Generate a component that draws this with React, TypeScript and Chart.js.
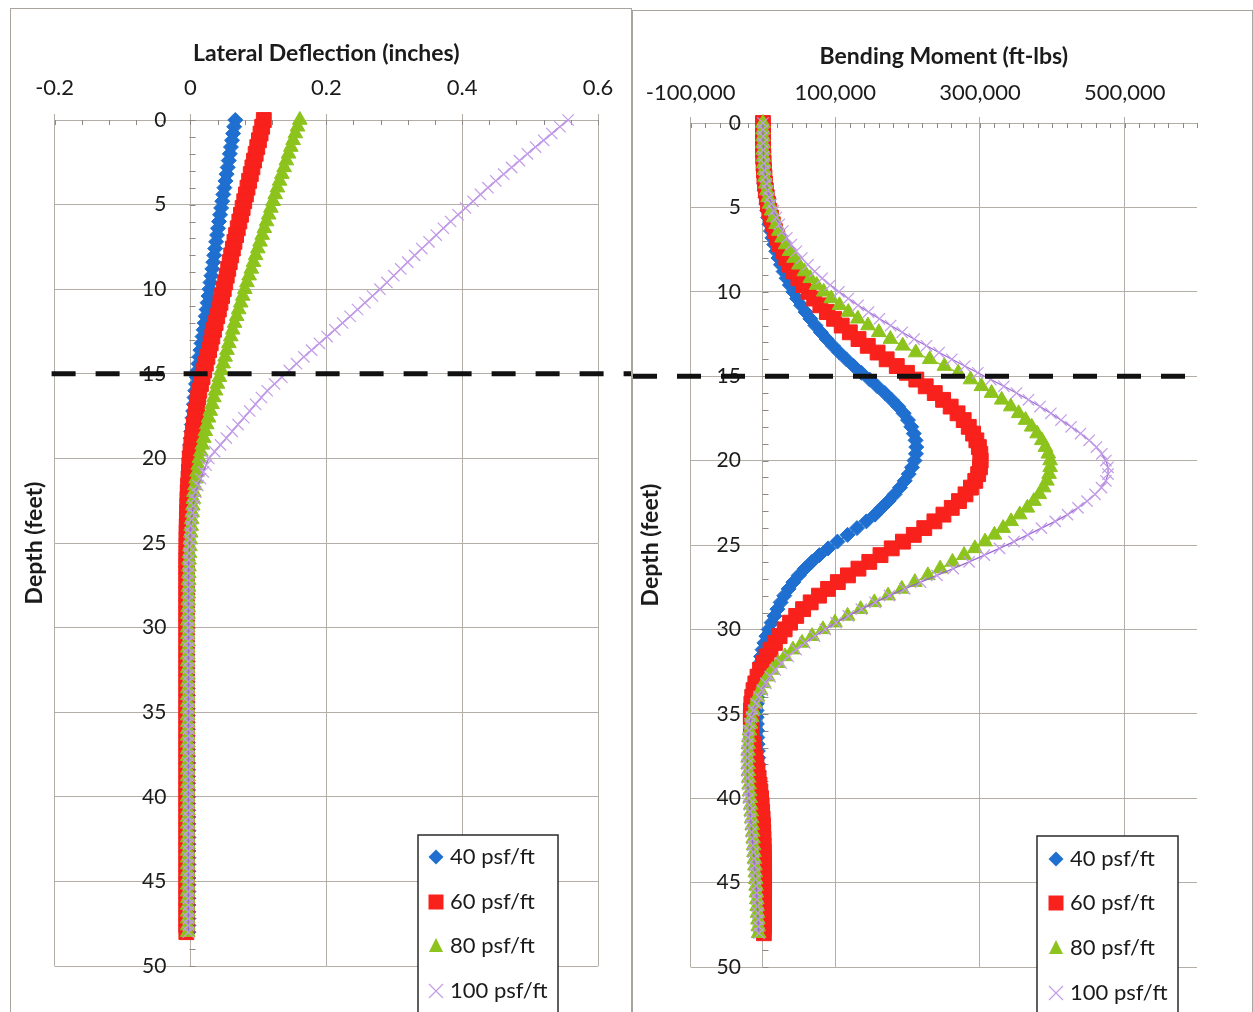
import React, { useEffect, useRef } from "react";
import { Chart, registerables } from "chart.js";

Chart.register(...registerables);

// ---------------- DATA ----------------
const DEPTH = [
  0, 0.4, 0.8, 1.2, 1.6, 2, 2.4, 2.8, 3.2, 3.6,
  4, 4.4, 4.8, 5.2, 5.6, 6, 6.4, 6.8, 7.2, 7.6,
  8, 8.4, 8.8, 9.2, 9.6, 10, 10.4, 10.8, 11.2, 11.6,
  12, 12.4, 12.8, 13.2, 13.6, 14, 14.4, 14.8, 15.2, 15.6,
  16, 16.4, 16.8, 17.2, 17.6, 18, 18.4, 18.8, 19.2, 19.6,
  20, 20.4, 20.8, 21.2, 21.6, 22, 22.4, 22.8, 23.2, 23.6,
  24, 24.4, 24.8, 25.2, 25.6, 26, 26.4, 26.8, 27.2, 27.6,
  28, 28.4, 28.8, 29.2, 29.6, 30, 30.4, 30.8, 31.2, 31.6,
  32, 32.4, 32.8, 33.2, 33.6, 34, 34.4, 34.8, 35.2, 35.6,
  36, 36.4, 36.8, 37.2, 37.6, 38, 38.4, 38.8, 39.2, 39.6,
  40, 40.4, 40.8, 41.2, 41.6, 42, 42.4, 42.8, 43.2, 43.6,
  44, 44.4, 44.8, 45.2, 45.6, 46, 46.4, 46.8, 47.2, 47.6,
  48,
];

// Lateral deflection (inches)
const DEFL_40 = [
  0.066, 0.0644, 0.0628, 0.0612, 0.0596, 0.058, 0.0564, 0.0548, 0.0532, 0.0516,
  0.05, 0.0484, 0.0468, 0.0452, 0.0436, 0.042, 0.0406, 0.0392, 0.0378, 0.0364,
  0.035, 0.0336, 0.0322, 0.0308, 0.0294, 0.028, 0.0266, 0.0252, 0.0238, 0.0224,
  0.021, 0.0194, 0.0178, 0.0162, 0.0146, 0.013, 0.0118, 0.0106, 0.0094, 0.0082,
  0.007, 0.006, 0.005, 0.004, 0.003, 0.002, 0.0012, 0.0004, -0.0004, -0.0012,
  -0.002, -0.0025, -0.0029, -0.0033, -0.0037, -0.004, -0.0042, -0.0044, -0.0046, -0.0048,
  -0.005, -0.005, -0.005, -0.005, -0.005, -0.005, -0.005, -0.005, -0.005, -0.005,
  -0.005, -0.005, -0.005, -0.005, -0.005, -0.005, -0.0049, -0.0048, -0.0047, -0.0046,
  -0.0045, -0.0044, -0.0043, -0.0042, -0.0041, -0.004, -0.004, -0.004, -0.004, -0.004,
  -0.004, -0.0039, -0.0038, -0.0037, -0.0036, -0.0035, -0.0035, -0.0035, -0.0035, -0.0035,
  -0.0035, -0.0034, -0.0033, -0.0032, -0.0031, -0.003, -0.003, -0.003, -0.003, -0.003,
  -0.003, -0.003, -0.003, -0.003, -0.003, -0.003, -0.003, -0.003, -0.003, -0.003,
  -0.003,
];
const DEFL_60 = [
  0.108, 0.1056, 0.1032, 0.1008, 0.0984, 0.096, 0.0936, 0.0912, 0.0888, 0.0864,
  0.084, 0.0816, 0.0792, 0.0768, 0.0744, 0.072, 0.0696, 0.0672, 0.0648, 0.0624,
  0.06, 0.0578, 0.0556, 0.0534, 0.0512, 0.049, 0.0466, 0.0442, 0.0418, 0.0394,
  0.037, 0.0346, 0.0322, 0.0298, 0.0274, 0.025, 0.0226, 0.0202, 0.0178, 0.0154,
  0.013, 0.0114, 0.0098, 0.0082, 0.0066, 0.005, 0.0038, 0.0026, 0.0014, 0.0002,
  -0.001, -0.0016, -0.0022, -0.0028, -0.0034, -0.004, -0.0043, -0.0046, -0.0049, -0.0052,
  -0.0055, -0.0056, -0.0057, -0.0058, -0.0059, -0.006, -0.006, -0.006, -0.006, -0.006,
  -0.006, -0.006, -0.006, -0.006, -0.006, -0.006, -0.006, -0.006, -0.006, -0.006,
  -0.006, -0.006, -0.006, -0.006, -0.006, -0.006, -0.006, -0.006, -0.006, -0.006,
  -0.006, -0.006, -0.006, -0.006, -0.006, -0.006, -0.006, -0.006, -0.006, -0.006,
  -0.006, -0.006, -0.006, -0.006, -0.006, -0.006, -0.006, -0.006, -0.006, -0.006,
  -0.006, -0.006, -0.006, -0.006, -0.006, -0.006, -0.006, -0.006, -0.006, -0.006,
  -0.006,
];
const DEFL_80 = [
  0.161, 0.1577, 0.1544, 0.1511, 0.1478, 0.1445, 0.1412, 0.1379, 0.1346, 0.1313,
  0.128, 0.1248, 0.1216, 0.1184, 0.1152, 0.112, 0.1088, 0.1056, 0.1024, 0.0992,
  0.096, 0.0928, 0.0896, 0.0864, 0.0832, 0.08, 0.077, 0.074, 0.071, 0.068,
  0.065, 0.0622, 0.0594, 0.0566, 0.0538, 0.051, 0.0482, 0.0454, 0.0426, 0.0398,
  0.037, 0.0344, 0.0318, 0.0292, 0.0266, 0.024, 0.0218, 0.0196, 0.0174, 0.0152,
  0.013, 0.0114, 0.0098, 0.0082, 0.0066, 0.005, 0.0042, 0.0034, 0.0026, 0.0018,
  0.001, 0.0004, -0.0002, -0.0008, -0.0014, -0.002, -0.0022, -0.0024, -0.0026, -0.0028,
  -0.003, -0.0032, -0.0034, -0.0036, -0.0038, -0.004, -0.004, -0.004, -0.004, -0.004,
  -0.004, -0.004, -0.004, -0.004, -0.004, -0.004, -0.004, -0.004, -0.004, -0.004,
  -0.004, -0.004, -0.004, -0.004, -0.004, -0.004, -0.004, -0.004, -0.004, -0.004,
  -0.004, -0.004, -0.004, -0.004, -0.004, -0.004, -0.004, -0.004, -0.004, -0.004,
  -0.004, -0.004, -0.004, -0.004, -0.004, -0.004, -0.004, -0.004, -0.004, -0.004,
  -0.004,
];
const DEFL_100 = [
  0.556, 0.544, 0.532, 0.52, 0.508, 0.496, 0.4844, 0.4728, 0.4612, 0.4496,
  0.438, 0.427, 0.416, 0.405, 0.394, 0.383, 0.3724, 0.3618, 0.3512, 0.3406,
  0.33, 0.3198, 0.3096, 0.2994, 0.2892, 0.279, 0.268, 0.257, 0.246, 0.235,
  0.224, 0.2126, 0.2012, 0.1898, 0.1784, 0.167, 0.1562, 0.1454, 0.1346, 0.1238,
  0.113, 0.1044, 0.0958, 0.0872, 0.0786, 0.07, 0.0614, 0.0528, 0.0442, 0.0356,
  0.027, 0.023, 0.019, 0.015, 0.011, 0.0075, 0.0056, 0.0041, 0.0028, 0.0016,
  0.0006, -0.0002, -0.0009, -0.0015, -0.002, -0.0024, -0.0027, -0.0029, -0.003, -0.003,
  -0.003, -0.003, -0.003, -0.003, -0.003, -0.003, -0.003, -0.003, -0.003, -0.003,
  -0.003, -0.003, -0.003, -0.003, -0.003, -0.003, -0.003, -0.003, -0.003, -0.003,
  -0.003, -0.003, -0.003, -0.003, -0.003, -0.003, -0.003, -0.003, -0.003, -0.003,
  -0.003, -0.003, -0.003, -0.003, -0.003, -0.003, -0.003, -0.003, -0.003, -0.003,
  -0.003, -0.003, -0.003, -0.003, -0.003, -0.003, -0.003, -0.003, -0.003, -0.003,
  -0.003,
];

// Bending moment (ft-lbs)
const MOM_40 = [
  0, 3, 22, 73, 172, 336, 581, 922, 1376, 1960,
  2688, 3578, 4645, 5906, 7376, 9072, 11010, 13206, 15676, 18437,
  21504, 24894, 28622, 32705, 37159, 42000, 47244, 52908, 59007, 65558,
  72576, 80078, 88080, 96599, 105649, 115248, 125411, 136155, 147496, 158000,
  168500, 178000, 187000, 194500, 200500, 205000, 208500, 211000, 212000, 211500,
  209500, 206000, 201500, 196000, 189500, 182000, 173500, 164000, 155000, 143000,
  130000, 117000, 103000, 90000, 78000, 67500, 58000, 49500, 42000, 35500,
  29500, 24500, 20000, 16000, 12000, 8000, 4800, 2000, -500, -2500,
  -4200, -5600, -6700, -7500, -8000, -8400, -8600, -8700, -8600, -8400,
  -8100, -7800, -7400, -7000, -6600, -6200, -5800, -5500, -5200, -4900,
  -4600, -4400, -4200, -4000, -3800, -3600, -3500, -3400, -3300, -3200,
  -3100, -3000, -3000, -3000, -3000, -3000, -3000, -3000, -3000, -3000,
  -3000,
];
const MOM_60 = [
  0, 4, 32, 109, 258, 504, 871, 1383, 2064, 2939,
  4032, 5367, 6967, 8858, 11064, 13608, 16515, 19809, 23515, 27656,
  32256, 37340, 42933, 49057, 55738, 63000, 70866, 79362, 88510, 98336,
  108864, 120117, 132121, 144898, 158474, 171000, 185000, 199000, 212000, 225000,
  237500, 249000, 259500, 269000, 277500, 284500, 290500, 295000, 298500, 300500,
  301000, 300000, 297500, 293500, 287500, 280000, 271000, 261000, 249500, 237000,
  223000, 208500, 193500, 178000, 162500, 147000, 132000, 117500, 103500, 90000,
  77500, 66000, 55500, 46000, 37500, 30000, 23000, 16500, 10500, 5000,
  0, -4000, -7500, -10500, -13000, -14800, -16000, -16600, -16800, -16600,
  -16000, -15000, -13600, -12000, -10500, -9000, -7500, -6000, -4800, -3600,
  -2600, -1800, -1100, -500, 0, 400, 700, 1000, 1200, 1400,
  1500, 1600, 1600, 1600, 1600, 1500, 1500, 1400, 1400, 1300,
  1300,
];
const MOM_80 = [
  0, 5, 43, 145, 344, 672, 1161, 1844, 2753, 3919,
  5376, 7155, 9290, 11811, 14752, 18144, 22020, 26412, 31353, 36874,
  43008, 49787, 57244, 65410, 74318, 84000, 94489, 105816, 118014, 131115,
  145152, 160156, 176161, 193197, 211298, 230496, 250823, 270000, 287000, 302000,
  316000, 330000, 342500, 353500, 363000, 371500, 379000, 385500, 390500, 394500,
  397000, 397000, 395500, 392500, 388000, 382000, 374500, 365500, 355000, 343000,
  332000, 320000, 307000, 293000, 278000, 262000, 245000, 228000, 210000, 192000,
  173000, 154000, 135000, 117000, 99500, 83000, 68000, 54000, 41500, 30500,
  21000, 13000, 6500, 1000, -3500, -7500, -10800, -13500, -15600, -17300,
  -18600, -19500, -20100, -20400, -20500, -20400, -20100, -19600, -19000, -18300,
  -17600, -16900, -16200, -15500, -14800, -14100, -13500, -12900, -12300, -11700,
  -11100, -10500, -10000, -9500, -9000, -8500, -8000, -7500, -7000, -6500,
  -6000,
];
const MOM_100 = [
  0, 7, 54, 181, 430, 840, 1452, 2305, 3441, 4899,
  6720, 8944, 11612, 14764, 18440, 22680, 27525, 33015, 39191, 46092,
  53760, 62234, 71555, 81762, 92897, 105000, 118000, 131500, 146000, 161000,
  176500, 192500, 209000, 226000, 243500, 261000, 279000, 297000, 315000, 333000,
  350500, 367000, 383000, 398000, 412000, 426000, 439000, 451000, 461000, 468500,
  474000, 477000, 477000, 474000, 468000, 459000, 448000, 435500, 421000, 404000,
  385000, 366000, 347000, 327000, 306000, 285000, 263000, 240500, 218000, 196000,
  175000, 155000, 136000, 118000, 101000, 86000, 71500, 58000, 46000, 35000,
  25500, 17000, 10000, 4000, -1000, -5500, -9500, -13000, -16000, -18000,
  -19500, -20500, -21200, -21600, -21800, -21800, -21600, -21200, -20700, -20100,
  -19400, -18700, -18000, -17200, -16400, -15600, -14800, -14000, -13200, -12400,
  -11600, -10900, -10200, -9500, -8900, -8300, -7700, -7100, -6600, -6100,
  -5600,
];

const SERIES_LABELS = ["40 psf/ft", "60 psf/ft", "80 psf/ft", "100 psf/ft"];

const DEPTH_TICKS = [0, 5, 10, 15, 20, 25, 30, 35, 40, 45, 50];
const DEFL_TICKS = [-0.2, 0, 0.2, 0.4, 0.6];
const DEFL_TICK_LABELS = ["-0.2", "0", "0.2", "0.4", "0.6"];
const MOM_TICKS = [-100000, 100000, 300000, 500000];
const MOM_TICK_LABELS = ["-100,000", "100,000", "300,000", "500,000"];
const EXCAVATION_DEPTH = 15;

// ---------------- STYLE ----------------
const FONT = 'Lato, "Open Sans", "DejaVu Sans", sans-serif';
const GRID = "#b3aea8";
const TICK_MARK = "#8d8883";
const TEXT = "#1b1b1b";

const SERIES_STYLE = [
  { shape: "rectRot", fill: "#1f6fd0", line: "#1f6fd0", radius: 7.5, lineWidth: 1.5 },
  { shape: "rect", fill: "#f8211c", line: "#f8211c", radius: 10.5, lineWidth: 1.5 },
  { shape: "triangle", fill: "#8cc31c", line: "#8cc31c", radius: 8.5, lineWidth: 1.5 },
  { shape: "crossRot", fill: "#c39ce8", line: "#9a68d2", radius: 8, lineWidth: 1.2 },
];

function drawLegendMarker(ctx: CanvasRenderingContext2D, i: number, x: number, y: number) {
  const s = SERIES_STYLE[i];
  ctx.save();
  ctx.fillStyle = s.fill;
  ctx.strokeStyle = s.fill;
  ctx.beginPath();
  if (s.shape === "rectRot") {
    const r = 7.5;
    ctx.moveTo(x, y - r);
    ctx.lineTo(x + r, y);
    ctx.lineTo(x, y + r);
    ctx.lineTo(x - r, y);
    ctx.closePath();
    ctx.fill();
  } else if (s.shape === "rect") {
    ctx.rect(x - 7.5, y - 7.5, 15, 15);
    ctx.fill();
  } else if (s.shape === "triangle") {
    ctx.moveTo(x, y - 8);
    ctx.lineTo(x + 7, y + 6);
    ctx.lineTo(x - 7, y + 6);
    ctx.closePath();
    ctx.fill();
  } else {
    ctx.lineWidth = 1.2;
    ctx.moveTo(x - 7, y - 7);
    ctx.lineTo(x + 7, y + 7);
    ctx.moveTo(x + 7, y - 7);
    ctx.lineTo(x - 7, y + 7);
    ctx.stroke();
  }
  ctx.restore();
}

type LegendSpec = { x: number; y: number; w: number; markerX: number; textX: number; rows: number[] };

type PanelSpec = {
  series: number[][];
  xMin: number;
  xMax: number;
  xTicks: number[];
  xLabels: string[];
  minorStep: number;
  xTitle: string;
  xTickPad: number;
  xTitlePadBottom: number;
  yLabelX: number;
  yTitlePadTop: number;
  yTitlePadBottom: number;
  padding: { left: number; right: number; top: number; bottom: number };
  legend: LegendSpec;
  dashToRight: boolean;
};

function makeChart(canvas: HTMLCanvasElement, p: PanelSpec) {
  const minorPlugin = {
    id: "minorTicks",
    beforeDatasetsDraw(chart: any) {
      const { ctx, chartArea, scales } = chart;
      const x = scales.x;
      const y = scales.y;
      ctx.save();
      ctx.strokeStyle = TICK_MARK;
      ctx.lineWidth = 1;
      ctx.beginPath();
      const n = Math.round((p.xMax - p.xMin) / p.minorStep);
      for (let i = 0; i <= n; i++) {
        const px = Math.round(x.getPixelForValue(p.xMin + i * p.minorStep)) + 0.5;
        ctx.moveTo(px, chartArea.top);
        ctx.lineTo(px, chartArea.top + 5);
      }
      const x0 = Math.round(x.getPixelForValue(0)) + 0.5;
      for (let d = 0; d <= 50; d++) {
        const py = Math.round(y.getPixelForValue(d)) + 0.5;
        ctx.moveTo(x0 - 1, py);
        ctx.lineTo(x0 + 5, py);
      }
      ctx.stroke();
      ctx.restore();
    },
  };

  const dashPlugin = {
    id: "excavationLine",
    afterDatasetsDraw(chart: any) {
      const { ctx, chartArea, scales } = chart;
      const py = scales.y.getPixelForValue(EXCAVATION_DEPTH);
      const x1 = p.dashToRight ? chartArea.left - 3 : 0;
      const x2 = p.dashToRight ? chart.width : chartArea.right;
      ctx.save();
      ctx.strokeStyle = "#111111";
      ctx.lineWidth = 5;
      ctx.setLineDash([24, 20]);
      ctx.beginPath();
      ctx.moveTo(x1, py);
      ctx.lineTo(x2, py);
      ctx.stroke();
      ctx.restore();
    },
  };

  const legendPlugin = {
    id: "boxLegend",
    afterDraw(chart: any) {
      const { ctx } = chart;
      const L = p.legend;
      const h = chart.height - L.y + 10;
      ctx.save();
      ctx.fillStyle = "#ffffff";
      ctx.fillRect(L.x, L.y, L.w, h);
      ctx.strokeStyle = "#2a2a2a";
      ctx.lineWidth = 1.5;
      ctx.strokeRect(L.x, L.y, L.w, h);
      ctx.font = `22px ${FONT}`;
      ctx.textBaseline = "middle";
      ctx.textAlign = "left";
      chart.data.datasets.forEach((ds: any, i: number) => {
        drawLegendMarker(ctx, i, L.markerX, L.rows[i]);
        ctx.fillStyle = TEXT;
        ctx.fillText(ds.label, L.textX, L.rows[i]);
      });
      ctx.restore();
    },
  };

  const datasets = p.series.map((vals, i) => {
    const s = SERIES_STYLE[i];
    return {
      label: SERIES_LABELS[i],
      data: DEPTH.map((d, k) => ({ x: vals[k], y: d })),
      showLine: true,
      borderColor: s.line,
      borderWidth: s.lineWidth,
      backgroundColor: s.fill,
      pointStyle: s.shape,
      pointRadius: s.radius,
      pointHoverRadius: s.radius,
      pointBackgroundColor: s.fill,
      pointBorderColor: s.fill,
      pointBorderWidth: i === 3 ? 1.2 : 1,
      order: 4 - i,
      clip: false as any,
      tension: 0,
    };
  });

  const depthTicks = (scale: any) => {
    scale.ticks = DEPTH_TICKS.map((v) => ({ value: v }));
  };

  return new Chart(canvas, {
    type: "scatter",
    data: { datasets: datasets as any },
    options: {
      responsive: false,
      maintainAspectRatio: false,
      animation: false,
      events: [],
      layout: { padding: p.padding },
      plugins: {
        legend: { display: false },
        tooltip: { enabled: false },
        title: { display: false },
      },
      scales: {
        x: {
          type: "linear",
          position: "top",
          min: p.xMin,
          max: p.xMax,
          afterBuildTicks: (scale: any) => {
            scale.ticks = p.xTicks.map((v) => ({ value: v }));
          },
          ticks: {
            autoSkip: false,
            maxRotation: 0,
            padding: p.xTickPad,
            color: TEXT,
            font: { family: FONT, size: 22, lineHeight: 1.2 },
            callback: (_v: any, idx: number) => p.xLabels[idx],
          },
          grid: { color: GRID, lineWidth: 1, drawTicks: true, tickLength: 6, tickColor: GRID },
          border: { color: GRID, width: 1 },
          title: {
            display: true,
            text: p.xTitle,
            color: TEXT,
            font: { family: FONT, size: 23, weight: "bold", lineHeight: 1.2 },
            padding: { top: 0, bottom: p.xTitlePadBottom },
          },
        },
        // axis line through x = 0 with the horizontal grid
        y: {
          type: "linear",
          axis: "y",
          position: { x: 0 } as any,
          reverse: true,
          min: 0,
          max: 50,
          afterBuildTicks: depthTicks,
          ticks: { display: false },
          grid: { color: GRID, lineWidth: 1, drawTicks: false },
          border: { color: GRID, width: 1 },
          title: { display: false },
        },
        // depth labels, set just left of the x = 0 axis
        yLabels: {
          type: "linear",
          axis: "y",
          position: { x: p.yLabelX } as any,
          reverse: true,
          min: 0,
          max: 50,
          afterBuildTicks: depthTicks,
          ticks: {
            autoSkip: false,
            color: TEXT,
            font: { family: FONT, size: 21, lineHeight: 1.2 },
            callback: (v: any) => String(v),
          },
          grid: { display: false, drawTicks: false },
          border: { display: false },
          title: { display: false },
        },
        yTitle: {
          type: "linear",
          axis: "y",
          position: "left",
          min: 0,
          max: 1,
          ticks: { display: false },
          grid: { display: false, drawTicks: false },
          border: { display: false },
          title: {
            display: true,
            text: "Depth (feet)",
            color: TEXT,
            font: { family: FONT, size: 23, weight: "bold", lineHeight: 1.2 },
            padding: { top: p.yTitlePadTop, bottom: p.yTitlePadBottom },
          },
        },
      } as any,
    },
    plugins: [minorPlugin, dashPlugin, legendPlugin],
  } as any);
}

const LEFT_PANEL: PanelSpec = {
  series: [DEFL_40, DEFL_60, DEFL_80, DEFL_100],
  xMin: -0.2,
  xMax: 0.6,
  xTicks: DEFL_TICKS,
  xLabels: DEFL_TICK_LABELS,
  minorStep: 0.04,
  xTitle: "Lateral Deflection (inches)",
  xTickPad: 13,
  xTitlePadBottom: -6,
  yLabelX: -0.0354,
  yTitlePadTop: 10,
  yTitlePadBottom: 6,
  padding: { left: 0, right: 33, top: 31, bottom: 46 },
  legend: { x: 407, y: 826, w: 140, markerX: 425, textX: 439, rows: [848, 893, 937, 982] },
  dashToRight: true,
};

const RIGHT_PANEL: PanelSpec = {
  series: [MOM_40, MOM_60, MOM_80, MOM_100],
  xMin: -100000,
  xMax: 600000,
  xTicks: MOM_TICKS,
  xLabels: MOM_TICK_LABELS,
  minorStep: 20000,
  xTitle: "Bending Moment (ft-lbs)",
  xTickPad: 11,
  xTitlePadBottom: -2,
  yLabelX: -30500,
  yTitlePadTop: 4,
  yTitlePadBottom: 26,
  padding: { left: 0, right: 55, top: 32, bottom: 45 },
  legend: { x: 404, y: 825, w: 141, markerX: 423, textX: 437, rows: [848, 892, 937, 982] },
  dashToRight: false,
};

function Panel({ spec, left, top, width, height }: { spec: PanelSpec; left: number; top: number; width: number; height: number }) {
  const ref = useRef<HTMLCanvasElement>(null);
  useEffect(() => {
    if (!ref.current) return;
    const chart = makeChart(ref.current, spec);
    return () => chart.destroy();
  }, [spec]);
  return (
    <div
      style={{
        position: "absolute",
        left,
        top,
        width,
        height,
        borderTop: "1px solid #a9a49d",
        borderLeft: "1px solid #a9a49d",
        borderRight: "1px solid #a9a49d",
        background: "#ffffff",
      }}
    >
      <canvas ref={ref} width={width} height={height} style={{ display: "block", width, height }} />
    </div>
  );
}

export default function App() {
  useEffect(() => {
    document.body.style.overflow = "hidden";
    document.body.style.background = "#ffffff";
  }, []);
  return (
    <div>
      <Panel spec={LEFT_PANEL} left={10} top={8} width={620} height={1003} />
      <Panel spec={RIGHT_PANEL} left={632} top={10} width={619} height={1001} />
    </div>
  );
}
